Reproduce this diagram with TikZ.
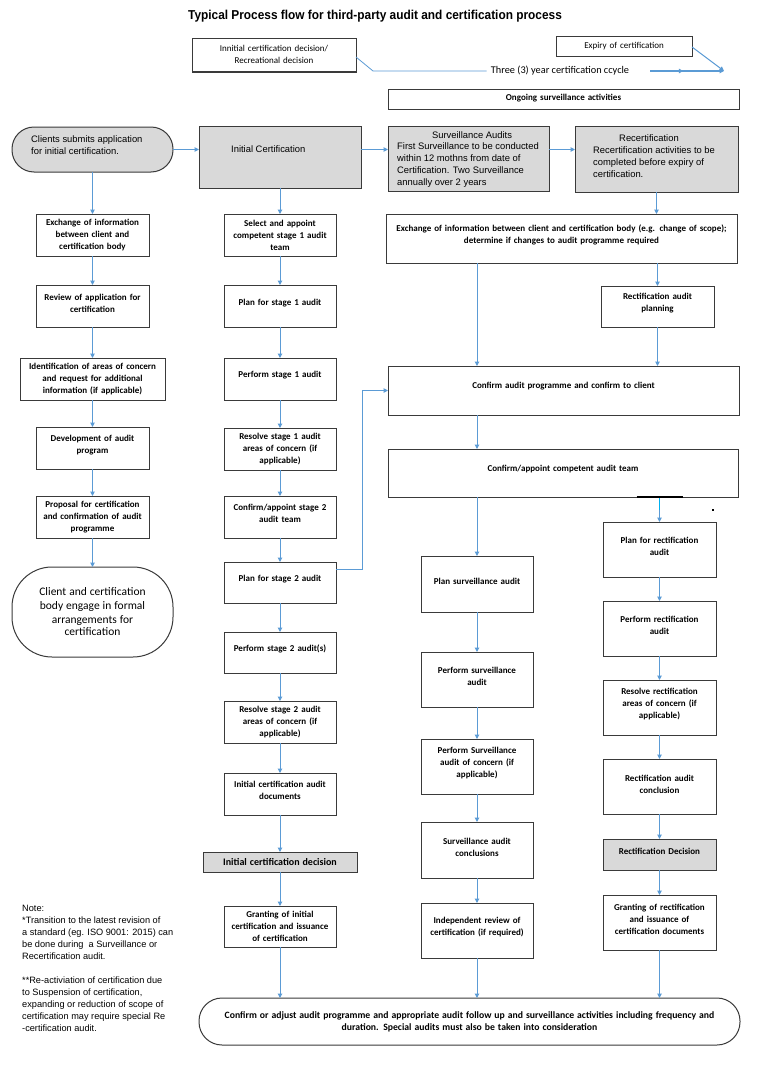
\documentclass[tikz,border=0pt]{standalone}
\usepackage{fontspec}
\setmainfont{Carlito}
\newfontfamily\arial{Liberation Sans}
\newfontfamily\titlefont[FakeStretch=0.92]{Liberation Sans}
\usetikzlibrary{arrows.meta,decorations.markings}
\definecolor{arrowblue}{HTML}{5B9BD5}
\definecolor{boxgray}{HTML}{D9D9D9}
\definecolor{edgegray}{HTML}{3A3A3A}
\definecolor{cyanline}{HTML}{00B0F0}
\newcommand\bx[8][]{%
  \pgfmathsetmacro\bxw{#5-#3}\pgfmathsetmacro\bxh{#6-#4}%
  \pgfmathsetmacro\bxcx{(#3+#5)/2}\pgfmathsetmacro\bxcy{(#4+#6)/2}%
  \pgfmathsetmacro\bxtw{#5-#3-6}%
  \node[box,minimum width=\bxw pt,minimum height=\bxh pt,#1] (#2) at (\bxcx,\bxcy) {};
  \node[boxtext,text width=\bxtw pt] (#2-t) at ([yshift=#7pt]#2.center) {#8};}
\begin{document}
\begin{tikzpicture}[x=1pt,y=-1pt,
  box/.style={draw=edgegray,line width=1pt,fill=white,inner sep=0pt,outer sep=0pt},
  graybox/.style={box,fill=boxgray},
  boxtext/.style={align=center,inner sep=0pt,font=\bfseries\fontsize{9}{12}\selectfont},
  flow/.style={draw=arrowblue,line width=1pt,-{Triangle[length=4.5pt,width=4.5pt]}},
  thinflow/.style={draw=arrowblue,line width=0.8pt},
  midarrow/.style={postaction={decorate},decoration={markings,mark=at position 0.45 with {\arrow{Triangle[length=4.5pt,width=4.5pt]}}}},
  arialtext/.style={inner sep=0pt,align=left,font=\arial\fontsize{9.4}{12}\selectfont}
]
\useasboundingbox (0,0) rectangle (756,1065);
\fill[white] (0,0) rectangle (756,1065);

% title
\node[font=\titlefont\bfseries\fontsize{12.9}{15}\selectfont,inner sep=0pt] (title) at (375,16) {Typical Process flow for third-party audit and certification process};

% top timeline
\bx{topA}{192}{39}{356}{72}{1}{\normalfont\fontsize{9}{13}\selectfont Innitial certification decision/\\Recreational decision}
\bx{expiry}{556}{37}{692}{57}{0.5}{\normalfont\fontsize{9}{12}\selectfont Expiry of certification}
\node[inner sep=0pt,font=\fontsize{10.3}{12}\selectfont] (cyc-t) at (560,71) {Three (3) year certification ccycle};
\coordinate (bend) at (373,71);
\coordinate (cycstart) at (650,71);
\coordinate (cycend) at (724,71);
\draw[thinflow] ([yshift=-1.5pt]topA.east) -- (bend) -- ([xshift=-4pt]cyc-t.west);
\draw[flow,midarrow] (cycstart) -- (cycend);
\draw[flow] (expiry.east) -- (cycend);
\bx{ongoing}{388}{89}{739}{109}{0.5}{Ongoing surveillance activities}

% top row
\node[graybox,rounded corners=22pt,minimum width=161pt,minimum height=45pt] (clients) at (92.5,149.5) {};
\node[arialtext,anchor=west] (clients-t) at (31,145) {Clients submits application\\for initial certification.};
\node[graybox,minimum width=162pt,minimum height=62pt] (init) at (280,157) {};
\node[arialtext,anchor=west] (init-t) at (231,149.5) {Initial Certification};
\node[graybox,minimum width=161pt,minimum height=65pt] (surv) at (468.5,158.5) {};
\node[arialtext,align=center] (surv-h) at (472,135.5) {Surveillance Audits};
\node[arialtext,anchor=west] (surv-t) at (397,165) {First Surveillance to be conducted\\within 12 mothns from date of\\Certification. Two Surveillance\\annually over 2 years};
\node[graybox,minimum width=163pt,minimum height=66pt] (rec) at (656.5,159) {};
\node[arialtext,align=center] (rec-h) at (649,138) {Recertification};
\node[arialtext,anchor=west] (rec-t) at (593,162.5) {Recertification activities to be\\completed before expiry of\\certification.};
\draw[flow] (clients.east) -- (clients.east -| init.west);
\draw[flow] (init.east |- clients.east) -- (surv.west |- clients.east);
\draw[flow] (surv.east |- clients.east) -- (rec.west |- clients.east);

% column 1
\bx{c1a}{36}{214}{149}{256}{0}{Exchange of information\\between client and\\certification body}
\bx{c1b}{36}{285}{149}{327}{3}{Review of application for\\certification}
\bx{c1c}{20}{358}{165}{400}{0}{Identification of areas of concern\\and request for additional\\information (if applicable)}
\bx{c1d}{36}{427}{149}{469}{3}{Development of audit\\program}
\bx{c1e}{36}{496}{149}{538}{0}{Proposal for certification\\and confirmation of audit\\programme}
\bx[rounded corners=40pt]{c1f}{12}{567}{173}{657}{0}{\normalfont\fontsize{11.5}{14}\selectfont Client and certification\\body engage in formal\\arrangements for\\certification}
\draw[flow] (clients) -- (c1a);
\draw[flow] (c1a) -- (c1b);
\draw[flow] (c1b) -- (c1c);
\draw[flow] (c1c) -- (c1d);
\draw[flow] (c1d) -- (c1e);
\draw[flow] (c1e) -- (c1f);

% column 2
\bx{c2a}{224}{214}{336}{256}{0}{Select and appoint\\competent stage 1 audit\\team}
\bx{c2b}{224}{285}{336}{327}{3}{Plan for stage 1 audit}
\bx{c2c}{224}{358}{336}{400}{3.5}{Perform stage 1 audit}
\bx{c2d}{224}{428}{336}{470}{0}{Resolve stage 1 audit\\areas of concern (if\\applicable)}
\bx{c2e}{224}{496}{336}{538}{3.5}{Confirm/appoint stage 2\\audit team}
\bx{c2f}{224}{562}{336}{603}{3}{Plan for stage 2 audit}
\bx{c2g}{224}{632}{336}{673}{3.5}{Perform stage 2 audit(s)}
\bx{c2h}{224}{701}{336}{743}{0}{Resolve stage 2 audit\\areas of concern (if\\applicable)}
\bx{c2i}{224}{773}{336}{815}{3.5}{Initial certification audit\\documents}
\bx[fill=boxgray]{c2j}{203}{852}{357}{872}{0}{\fontsize{10}{12}\selectfont Initial certification decision}
\bx{c2k}{224}{906}{336}{947}{0}{Granting of initial\\certification and issuance\\of certification}
\draw[flow] (init) -- (c2a);
\draw[flow] (c2a) -- (c2b);
\draw[flow] (c2b) -- (c2c);
\draw[flow] (c2c) -- (c2d);
\draw[flow] (c2d) -- (c2e);
\draw[flow] (c2e) -- (c2f);
\draw[flow] (c2f) -- (c2g);
\draw[flow] (c2g) -- (c2h);
\draw[flow] (c2h) -- (c2i);
\draw[flow] (c2i) -- (c2j);
\draw[flow] (c2j) -- (c2k);

% right block
\bx{r1}{386}{214}{737}{263}{3.5}{Exchange of information between client and certification body (e.g. change of scope);\\determine if changes to audit programme required}
\bx{r2}{601}{286}{714}{327}{3.5}{Rectification audit\\planning}
\bx{r3}{388}{366}{739}{415}{4}{Confirm audit programme and confirm to client}
\bx{r4}{388}{449}{738}{497}{4}{Confirm/appoint competent audit team}

% column 3
\bx{s1}{421}{556}{533}{612}{3}{Plan surveillance audit}
\bx{s2}{421}{652}{533}{707}{3}{Perform surveillance\\audit}
\bx{s3}{421}{739}{533}{794}{3}{Perform Surveillance\\audit of concern (if\\applicable)}
\bx{s4}{421}{822}{533}{878}{3}{Surveillance audit\\conclusions}
\bx{s5}{421}{903}{533}{958}{3}{Independent review of\\certification (if required)}

% column 4
\bx{t1}{603}{522}{716}{577}{3}{Plan for rectification\\audit}
\bx{t2}{603}{601}{716}{656}{3}{Perform rectification\\audit}
\bx{t3}{603}{680}{716}{735}{3}{Resolve rectification\\areas of concern (if\\applicable)}
\bx{t4}{603}{759}{716}{814}{2.5}{Rectification audit\\conclusion}
\bx[fill=boxgray]{t5}{603}{839}{716}{870}{3}{Rectification Decision}
\bx{t6}{603}{895}{716}{950}{3}{Granting of rectification\\and issuance of\\certification documents}

% bottom
\bx[rounded corners=23pt]{bot}{199}{998}{740}{1045}{0}{\fontsize{9.7}{13}\selectfont Confirm or adjust audit programme and appropriate audit follow up and surveillance activities including frequency and\\duration. Special audits must also be taken into consideration}

% right connectors
\draw[flow] (rec) -- (rec |- r1.north);
\draw[flow] (r1.south -| s1) -- (r3.north -| s1);
\draw[flow] (r1.south -| r2) -- (r2);
\draw[flow] (r2) -- (r2 |- r3.north);
\draw[flow] (r3.south -| s1) -- (r4.north -| s1);
\draw[flow] (r4.south -| s1) -- (s1);
\draw[flow] (s1) -- (s2);
\draw[flow] (s2) -- (s3);
\draw[flow] (s3) -- (s4);
\draw[flow] (s4) -- (s5);
\coordinate (tj) at (r4.south -| t1.north);
\draw[flow] (tj) -- (t1);
\draw[cyanline,line width=1.4pt] (tj) -- ++(0,13);
\draw[black,line width=2pt] ([xshift=-23pt]tj) -- ++(46,0);
\fill[black] (712,509) rectangle (714,511);
\draw[flow] (t1) -- (t2);
\draw[flow] (t2) -- (t3);
\draw[flow] (t3) -- (t4);
\draw[flow] (t4) -- (t5);
\draw[flow] (t5) -- (t6);
\draw[flow] ([yshift=13pt]c2f.east) -- ++(26,0) |- (r3.west);
\draw[flow] (c2k) -- (c2k |- bot.north);
\draw[flow] (s5) -- (s5 |- bot.north);
\draw[flow] (t6) -- (t6 |- bot.north);

% note
\node[arialtext,anchor=north west,font=\arial\fontsize{9.2}{12}\selectfont] (note) at (22,905) {Note:\\*Transition to the latest revision of\\a standard (eg. ISO 9001: 2015) can\\be done during\ \ a Surveillance or\\Recertification audit.\\[12pt]**Re-activiation of certification due\\to Suspension of certification,\\expanding or reduction of scope of\\certification may require special Re\\-certification audit.};
\end{tikzpicture}
\end{document}
